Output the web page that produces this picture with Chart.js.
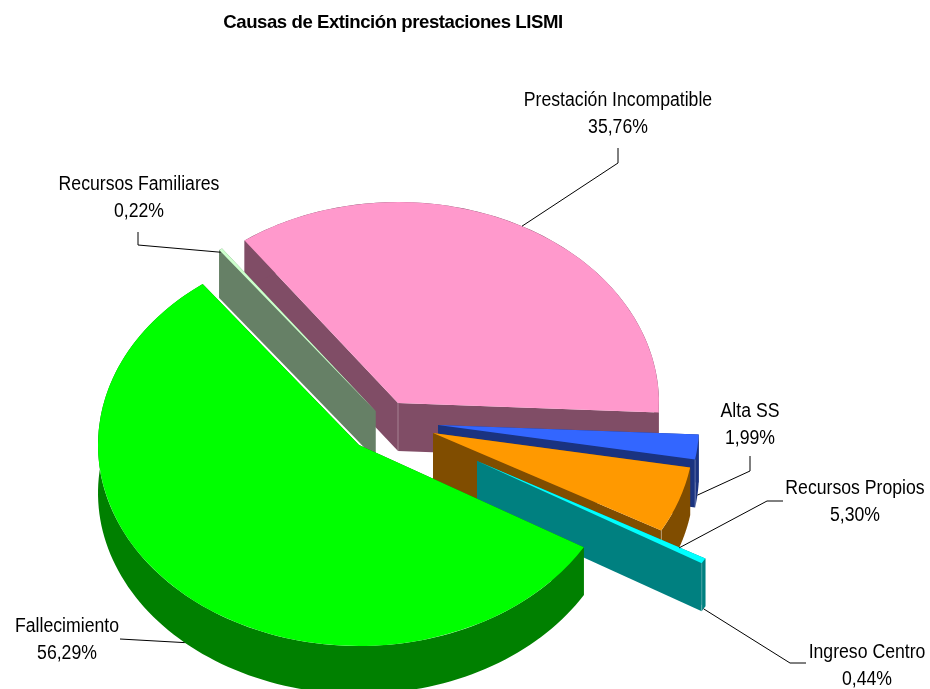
<!DOCTYPE html>
<html lang="es">
<head>
    <meta charset="UTF-8">
    <title>Causas de Extinción prestaciones LISMI</title>
    <script src="https://cdn.jsdelivr.net/npm/chart.js@4.4.0/dist/chart.umd.min.js"></script>
    <style>
        html, body { margin: 0; background: #fff; }
        canvas { display: block; }
    </style>
</head>
<body>
    <canvas id="pieChart" width="930" height="689"></canvas>
    <script>
        const chartTitle = 'Causas de Extinción prestaciones LISMI';
        const categories = ['Prestación Incompatible', 'Alta SS', 'Recursos Propios', 'Ingreso Centro', 'Fallecimiento', 'Recursos Familiares'];
        const percentages = [35.76, 1.99, 5.30, 0.44, 56.29, 0.22];
        const topColors = ['#FF99CC', '#3366FF', '#FF9900', '#00FFFF', '#00FF00', '#CCFFCC'];
        const wallColors = ['#804D66', '#1A3380', '#804D00', '#008080', '#008000', '#668066'];

        // look of the fake 3D: squash of the circle and height of the walls
        const tilt = 0.77;
        const depth = 48;
        const pieRadius = 261;
        // how far each slice is pulled out of the middle, px
        const pullX = [5, 45, 40, 84, -34, -17.5];
        const pullY = [-27, -5, 3, 31, 15, -19];
        // back to front
        const paintOrder = [0, 1, 2, 3, 5, 4];
        // which corner of the wall gets the pale edge line
        const paleEdge = ['apex', 'end', 'end', 'end', null, null];
        // label centre x, first line y, then the leader elbows
        const labelX = [618, 750, 855, 867, 67, 139];
        const labelY = [100.5, 412, 489, 652.5, 627, 185];
        const leaderStart = [[618, 148], [750, 456], [783, 501], [806, 663], [120, 639], [138, 232]];
        const leaderElbow = [[618, 163], [750, 471], [767, 501], [790, 663], null, [138, 245]];
        const leaderDrop = [0, 48, 48, 48, 48, 3];
        const lineGap = 27;

        function rimPoint(arc, i, angle, radius, drop) {
            return [
                arc.x + pullX[i] + Math.cos(angle) * radius,
                arc.y + pullY[i] + Math.sin(angle) * radius * tilt + drop
            ];
        }

        function fillPoly(ctx, pts) {
            ctx.beginPath();
            pts.forEach((p, n) => n ? ctx.lineTo(p[0], p[1]) : ctx.moveTo(p[0], p[1]));
            ctx.closePath();
            ctx.fill();
        }

        function drawWalls(ctx, arc, i) {
            const r = arc.outerRadius;
            const apexTop = rimPoint(arc, i, 0, 0, 0);
            const apexLow = rimPoint(arc, i, 0, 0, depth);
            ctx.fillStyle = wallColors[i];
            [arc.startAngle, arc.endAngle].forEach(a => {
                fillPoly(ctx, [apexTop, rimPoint(arc, i, a, r, 0), rimPoint(arc, i, a, r, depth), apexLow]);
            });
            const top = [], low = [];
            const steps = 120;
            for (let s = 0; s <= steps; s++) {
                const a = arc.startAngle + (arc.endAngle - arc.startAngle) * s / steps;
                top.push(rimPoint(arc, i, a, r, 0));
                low.unshift(rimPoint(arc, i, a, r, depth));
            }
            fillPoly(ctx, top.concat(low));
            if (paleEdge[i]) {
                const from = paleEdge[i] === 'apex' ? apexTop : rimPoint(arc, i, arc.endAngle, r, 0);
                ctx.strokeStyle = 'rgba(255,255,255,0.3)';
                ctx.lineWidth = 1;
                ctx.beginPath();
                ctx.moveTo(from[0], from[1]);
                ctx.lineTo(from[0], from[1] + depth);
                ctx.stroke();
            }
        }

        const piePlugin = {
            id: 'pie3d',
            beforeDraw(chart) {
                // the title in the picture is a bit tighter than the font
                chart.ctx.letterSpacing = '-0.45px';
            },
            beforeDatasetsDraw(chart) {
                const ctx = chart.ctx;
                ctx.letterSpacing = '0px';
                const arcs = chart.getDatasetMeta(0).data;
                paintOrder.forEach(i => {
                    const arc = arcs[i];
                    drawWalls(ctx, arc, i);
                    ctx.save();
                    ctx.translate(arc.x + pullX[i], arc.y + pullY[i]);
                    ctx.scale(1, tilt);
                    ctx.translate(-arc.x, -arc.y);
                    arc.draw(ctx);
                    ctx.restore();
                });
                return false;
            },
            afterDraw(chart) {
                const ctx = chart.ctx;
                const arcs = chart.getDatasetMeta(0).data;
                ctx.strokeStyle = '#000';
                ctx.lineWidth = 1;
                categories.forEach((name, i) => {
                    const arc = arcs[i];
                    const mid = (arc.startAngle + arc.endAngle) / 2;
                    const rim = rimPoint(arc, i, mid, arc.outerRadius, leaderDrop[i]);
                    ctx.beginPath();
                    ctx.moveTo(leaderStart[i][0], leaderStart[i][1]);
                    if (leaderElbow[i]) ctx.lineTo(leaderElbow[i][0], leaderElbow[i][1]);
                    ctx.lineTo(rim[0], rim[1]);
                    ctx.stroke();
                    // tall narrow text, so squeeze it sideways
                    ctx.save();
                    ctx.fillStyle = '#000';
                    ctx.font = '19.5px "Liberation Sans", Arial, sans-serif';
                    ctx.textAlign = 'center';
                    ctx.textBaseline = 'middle';
                    ctx.translate(labelX[i], labelY[i]);
                    ctx.scale(0.905, 1);
                    ctx.fillText(name, 0, 0);
                    ctx.fillText(percentages[i].toFixed(2).replace('.', ',') + '%', 0, lineGap);
                    ctx.restore();
                });
            }
        };

        new Chart(document.getElementById('pieChart'), {
            type: 'pie',
            data: {
                labels: categories,
                datasets: [{
                    data: percentages,
                    backgroundColor: topColors,
                    borderWidth: 0
                }]
            },
            options: {
                responsive: false,
                animation: false,
                rotation: -36,
                radius: pieRadius,
                layout: { padding: { left: 0, right: 144, top: 0, bottom: 0 } },
                plugins: {
                    legend: { display: false },
                    tooltip: { enabled: false },
                    title: {
                        display: true,
                        text: chartTitle,
                        color: '#000',
                        font: { family: '"Liberation Sans", Arial, sans-serif', size: 18.6, weight: 'bold' },
                        padding: { top: 12, bottom: 136.7 }
                    }
                }
            },
            plugins: [piePlugin]
        });
    </script>
</body>
</html>
